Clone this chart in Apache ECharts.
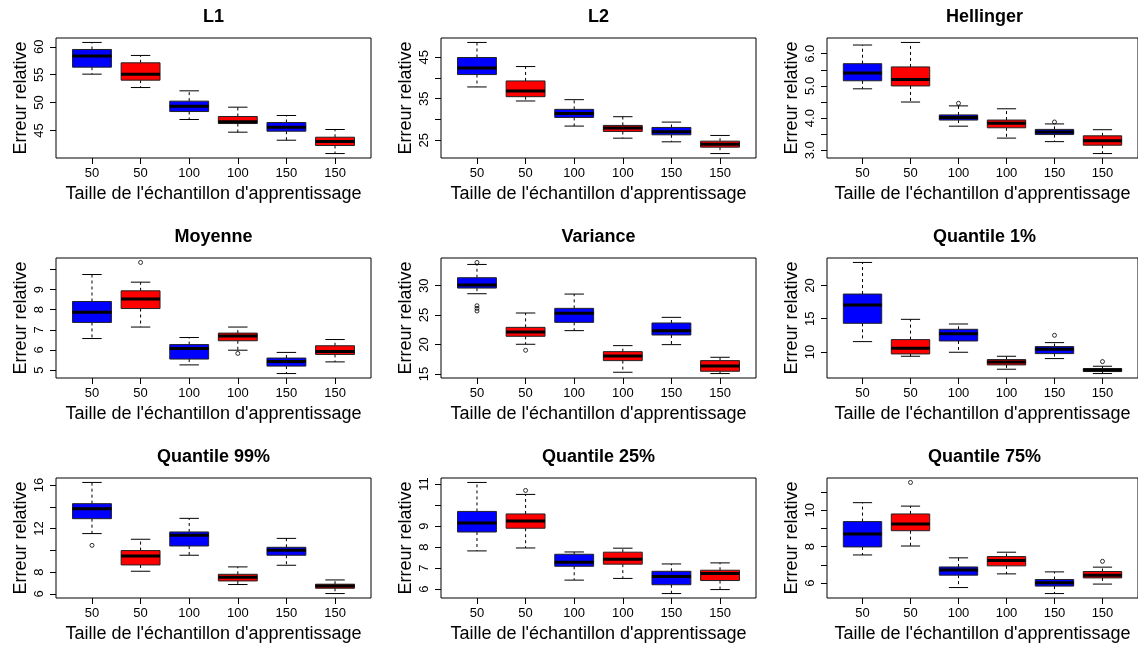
<!DOCTYPE html>
<html>
<head>
<meta charset="utf-8">
<script src="https://cdn.jsdelivr.net/npm/echarts@6/dist/echarts.min.js"></script>
<style>
html,body{margin:0;padding:0;background:#fff;}
#chart{width:1138px;height:646px;}
</style>
</head>
<body>
<div id="chart"></div>
<script>
// ---------- DATA ----------
const categories = ["50", "50", "100", "100", "150", "150"];
const panelTitles = ["L1", "L2", "Hellinger", "Moyenne", "Variance", "Quantile 1%", "Quantile 99%", "Quantile 25%", "Quantile 75%"];
const xTitle = "Taille de l'échantillon d'apprentissage";
const yTitle = "Erreur relative";

// each box: [lower whisker, Q1, median, Q3, upper whisker]
const l1Stats = [
  [55.1, 56.35, 58.33, 59.52, 60.78],
  [52.7, 54.02, 55.1, 57.13, 58.45],
  [46.97, 48.4, 49.36, 50.26, 52.11],
  [44.7, 46.25, 46.55, 47.51, 49.18],
  [43.26, 44.88, 45.6, 46.43, 47.69],
  [40.87, 42.31, 43.02, 43.8, 45.18]
];
const l1Outliers = [];
const l1Ticks = ["45", "50", "55", "60"];
const l1Labels = ["45", "50", "55", "60"];

const l2Stats = [
  [37.82, 40.81, 42.42, 44.92, 48.55],
  [34.44, 35.48, 36.85, 39.27, 42.74],
  [28.39, 30.48, 31.45, 32.42, 34.76],
  [25.48, 27.1, 27.9, 28.55, 30.65],
  [24.6, 26.29, 27.02, 28.06, 29.35],
  [21.77, 23.31, 24.03, 24.76, 26.13]
];
const l2Outliers = [];
const l2Ticks = ["25", "30", "35", "40", "45"];
const l2Labels = ["25", "35", "45"];

const hellStats = [
  [4.91, 5.16, 5.40, 5.69, 6.27],
  [4.50, 5.00, 5.20, 5.59, 6.35],
  [3.75, 3.94, 4.02, 4.10, 4.38],
  [3.38, 3.70, 3.84, 3.94, 4.29],
  [3.27, 3.49, 3.57, 3.65, 3.82],
  [2.90, 3.16, 3.30, 3.45, 3.64]
];
const hellOutliers = [[3, 4.46], [5, 3.88]];
const hellTicks = ["3.0", "3.5", "4.0", "4.5", "5.0", "5.5", "6.0"];
const hellLabels = ["3.0", "4.0", "5.0", "6.0"];

const moyStats = [
  [6.57, 7.37, 7.88, 8.41, 9.75],
  [7.14, 8.06, 8.54, 8.94, 9.37],
  [5.26, 5.55, 6.08, 6.27, 6.62],
  [5.99, 6.46, 6.69, 6.84, 7.14],
  [4.83, 5.20, 5.43, 5.60, 5.88],
  [5.41, 5.78, 5.93, 6.21, 6.52]
];
const moyOutliers = [[2, 10.35], [4, 5.83]];
const moyTicks = ["5", "6", "7", "8", "9", "10"];
const moyLabels = ["5", "6", "7", "8", "9"];

const varStats = [
  [28.64, 29.6, 30.11, 31.36, 33.62],
  [20.04, 21.4, 22.13, 22.92, 25.36],
  [22.36, 23.77, 25.3, 26.15, 28.58],
  [15.28, 17.26, 18.06, 18.79, 19.81],
  [19.98, 21.62, 22.36, 23.66, 24.62],
  [15.06, 15.45, 16.36, 17.26, 17.83]
];
const varOutliers = [[1, 33.96], [1, 26.6], [1, 26.15], [1, 25.7], [2, 19.02]];
const varTicks = ["15", "20", "25", "30"];
const varLabels = ["15", "20", "25", "30"];

const q1Stats = [
  [11.55, 14.3, 17.05, 18.7, 23.45],
  [9.35, 9.7, 10.55, 11.85, 14.9],
  [9.95, 11.65, 12.75, 13.4, 14.2],
  [7.4, 8.05, 8.5, 8.85, 9.35],
  [9.0, 9.75, 10.4, 10.8, 11.4],
  [6.75, 7.05, 7.3, 7.5, 7.85]
];
const q1Outliers = [[5, 12.5], [6, 8.55]];
const q1Ticks = ["10", "15", "20"];
const q1Labels = ["10", "15", "20"];

const q99Stats = [
  [11.54, 12.91, 13.83, 14.29, 16.24],
  [8.08, 8.66, 9.49, 9.98, 11.02],
  [9.55, 10.4, 11.38, 11.69, 12.94],
  [6.86, 7.19, 7.53, 7.8, 8.48],
  [8.63, 9.55, 10.0, 10.28, 11.1],
  [6.03, 6.52, 6.73, 6.89, 7.28]
];
const q99Outliers = [[1, 10.46]];
const q99Ticks = ["6", "8", "10", "12", "14", "16"];
const q99Labels = ["6", "8", "12", "16"];

const q25Stats = [
  [7.82, 8.72, 9.15, 9.70, 11.08],
  [7.96, 8.90, 9.24, 9.58, 10.51],
  [6.43, 7.09, 7.28, 7.66, 7.77],
  [6.51, 7.19, 7.42, 7.76, 7.95],
  [5.79, 6.21, 6.60, 6.85, 7.20],
  [5.98, 6.41, 6.74, 6.90, 7.25]
];
const q25Outliers = [[2, 10.70]];
const q25Ticks = ["6", "7", "8", "9", "10", "11"];
const q25Labels = ["6", "7", "8", "9", "11"];

const q75Stats = [
  [7.55, 7.99, 8.70, 9.38, 10.42],
  [8.04, 8.88, 9.25, 9.80, 10.23],
  [5.76, 6.44, 6.73, 6.89, 7.39],
  [6.51, 6.95, 7.24, 7.46, 7.70],
  [5.43, 5.84, 6.02, 6.20, 6.62],
  [5.95, 6.29, 6.44, 6.64, 6.88]
];
const q75Outliers = [[2, 11.53], [6, 7.2]];
const q75Ticks = ["6", "7", "8", "9", "10", "11"];
const q75Labels = ["6", "8", "10"];

// ---------- STYLE / LAYOUT ----------
const FONT = '"Liberation Sans", Arial, Helvetica, sans-serif';
const boxFills = ["#0000FF", "#FF0000"];
const colLeft = [56, 441, 827];
const rowTop = [38, 258, 478];
const plotW = 315, plotH = 120;

const panels = [
  [l1Stats, l1Outliers, l1Ticks, l1Labels],
  [l2Stats, l2Outliers, l2Ticks, l2Labels],
  [hellStats, hellOutliers, hellTicks, hellLabels],
  [moyStats, moyOutliers, moyTicks, moyLabels],
  [varStats, varOutliers, varTicks, varLabels],
  [q1Stats, q1Outliers, q1Ticks, q1Labels],
  [q99Stats, q99Outliers, q99Ticks, q99Labels],
  [q25Stats, q25Outliers, q25Ticks, q25Labels],
  [q75Stats, q75Outliers, q75Ticks, q75Labels]
];

const grids = [], xAxes = [], yAxes = [], series = [], titles = [];
const xPositions = categories.map((_, i) => i + 1);

panels.forEach((p, i) => {
  const [stats, outs, ticks, labels] = p;
  const col = i % 3, row = Math.floor(i / 3);
  let lo = Infinity, hi = -Infinity;
  stats.forEach(s => s.forEach(v => { lo = Math.min(lo, v); hi = Math.max(hi, v); }));
  outs.forEach(o => { lo = Math.min(lo, o[1]); hi = Math.max(hi, o[1]); });
  const r = hi - lo;
  const yMin = lo - 0.04 * r, yMax = hi + 0.04 * r;

  grids.push({
    left: colLeft[col], top: rowTop[row], width: plotW, height: plotH,
    show: true, borderColor: '#000', borderWidth: 1, backgroundColor: 'transparent'
  });
  titles.push({
    text: panelTitles[i], left: colLeft[col] + plotW / 2, top: rowTop[row] - 30,
    textAlign: 'center', padding: 0,
    textStyle: { fontFamily: FONT, fontSize: 18, fontWeight: 'bold', color: '#000' }
  });
  xAxes.push({
    gridIndex: i, type: 'value', min: 0.26, max: 6.74,
    axisLine: { show: false }, splitLine: { show: false },
    axisTick: { show: true, customValues: xPositions, length: 6, lineStyle: { color: '#000', width: 1 } },
    axisLabel: {
      customValues: xPositions, formatter: v => categories[Math.round(v) - 1],
      fontFamily: FONT, fontSize: 13, color: '#000', margin: 9
    },
    name: xTitle, nameLocation: 'middle', nameGap: 27,
    nameTextStyle: { fontFamily: FONT, fontSize: 18, color: '#000' }
  });
  const tickVals = ticks.map(Number);
  const labelVals = labels.map(Number);
  yAxes.push({
    gridIndex: i, type: 'value', min: yMin, max: yMax,
    axisLine: { show: false }, splitLine: { show: false },
    axisTick: { show: true, customValues: tickVals, length: 6, lineStyle: { color: '#000', width: 1 } },
    axisLabel: {
      customValues: labelVals, rotate: 90,
      formatter: v => { const k = labelVals.findIndex(t => Math.abs(t - v) < 1e-9); return k >= 0 ? labels[k] : ''; },
      fontFamily: FONT, fontSize: 13, color: '#000', margin: 10
    },
    name: yTitle, nameLocation: 'middle', nameGap: 26,
    nameTextStyle: { fontFamily: FONT, fontSize: 18, color: '#000' }
  });

  series.push({
    type: 'custom', xAxisIndex: i, yAxisIndex: i, silent: true,
    data: stats.map((s, j) => [j + 1, s[0], s[1], s[2], s[3], s[4], j % 2]),
    renderItem: (params, api) => {
      const x = api.value(0);
      const yl = api.coord([x, api.value(1)])[1];
      const yq1 = api.coord([x, api.value(2)])[1];
      const ym = api.coord([x, api.value(3)])[1];
      const yq3 = api.coord([x, api.value(4)])[1];
      const yh = api.coord([x, api.value(5)])[1];
      const cx = api.coord([x, api.value(3)])[0];
      const hw = api.size([0.8, 0])[0] / 2;
      const cw = api.size([0.4, 0])[0] / 2;
      const fill = boxFills[api.value(6)];
      const ln = (x1, y1, x2, y2, w, dash) => ({
        type: 'line', shape: { x1, y1, x2, y2 },
        style: { stroke: '#000', lineWidth: w, lineDash: dash || null }
      });
      return {
        type: 'group', children: [
          ln(cx, yq3, cx, yh, 1, [3, 3]),
          ln(cx, yq1, cx, yl, 1, [3, 3]),
          ln(cx - cw, yh, cx + cw, yh, 1),
          ln(cx - cw, yl, cx + cw, yl, 1),
          { type: 'rect', shape: { x: cx - hw, y: yq3, width: 2 * hw, height: yq1 - yq3 },
            style: { fill: fill, stroke: '#222', lineWidth: 1 } },
          ln(cx - hw, ym, cx + hw, ym, 3)
        ]
      };
    }
  });
  series.push({
    type: 'scatter', xAxisIndex: i, yAxisIndex: i, silent: true,
    data: outs, symbol: 'circle', symbolSize: 4,
    itemStyle: { color: 'rgba(0,0,0,0)', borderColor: '#000', borderWidth: 1 }
  });
});

const chart = echarts.init(document.getElementById('chart'), null, { renderer: 'canvas' });
chart.setOption({
  backgroundColor: '#fff',
  animation: false,
  title: titles,
  grid: grids,
  xAxis: xAxes,
  yAxis: yAxes,
  series: series
});
</script>
</body>
</html>
